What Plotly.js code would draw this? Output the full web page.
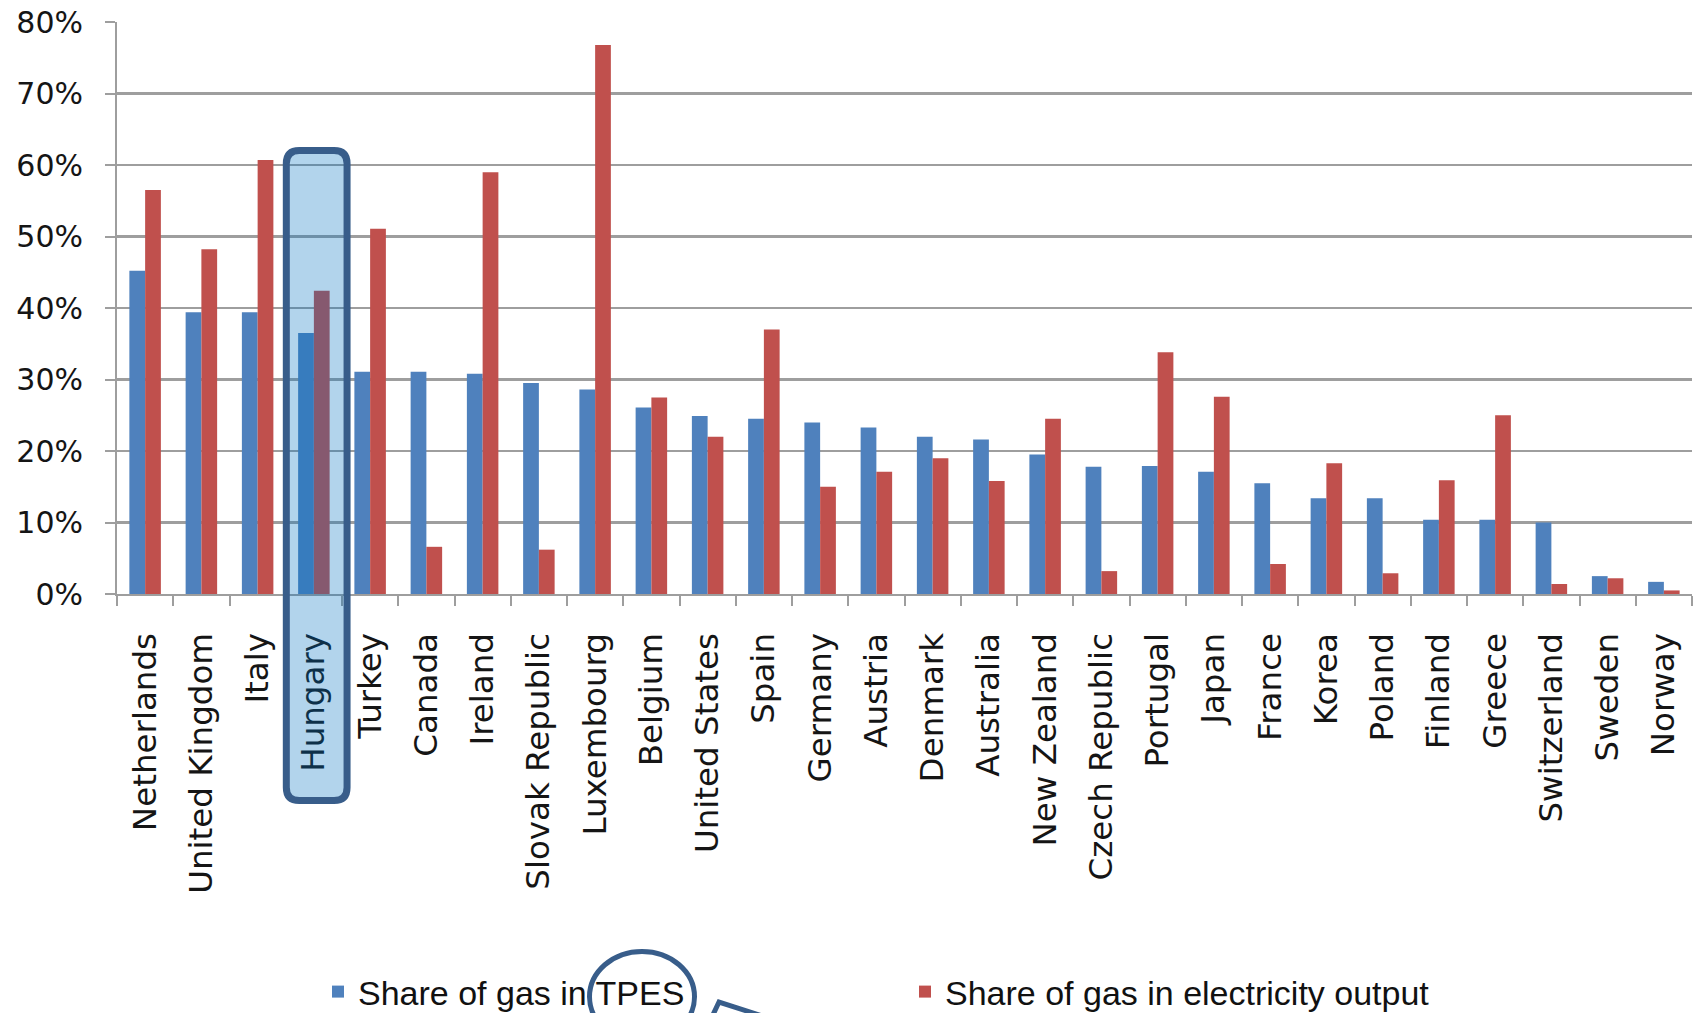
<!DOCTYPE html>
<html>
<head>
<meta charset="utf-8">
<script src="https://cdn.plot.ly/plotly-3.0.1.min.js"></script>
<style>
  html, body { margin: 0; padding: 0; background: #ffffff; }
  #chart { width: 1694px; height: 1013px; }
</style>
</head>
<body>
<div id="chart"></div>
<script>
// ---- data ----
const countries = [
  "Netherlands", "United Kingdom", "Italy", "Hungary", "Turkey", "Canada",
  "Ireland", "Slovak Republic", "Luxembourg", "Belgium", "United States",
  "Spain", "Germany", "Austria", "Denmark", "Australia", "New Zealand",
  "Czech Republic", "Portugal", "Japan", "France", "Korea", "Poland",
  "Finland", "Greece", "Switzerland", "Sweden", "Norway"
];
const shareTPES = [
  0.452, 0.394, 0.394, 0.365, 0.311, 0.311,
  0.308, 0.295, 0.286, 0.261, 0.249,
  0.245, 0.240, 0.233, 0.220, 0.216, 0.195,
  0.178, 0.179, 0.171, 0.155, 0.134, 0.134,
  0.104, 0.104, 0.100, 0.025, 0.017
];
const shareElectricity = [
  0.565, 0.482, 0.607, 0.424, 0.511, 0.066,
  0.590, 0.062, 0.768, 0.275, 0.220,
  0.370, 0.150, 0.171, 0.190, 0.158, 0.245,
  0.032, 0.338, 0.276, 0.042, 0.183, 0.029,
  0.159, 0.250, 0.014, 0.022, 0.005
];
const seriesNames = ["Share of gas in TPES", "Share of gas in electricity output"];
const yTickValues = [0, 0.1, 0.2, 0.3, 0.4, 0.5, 0.6, 0.7, 0.8];
const highlighted = "Hungary";

// ---- geometry helpers (decorations only) ----
const W = 1694, H = 1013;
const M = { l: 117, r: 2, t: 22, b: 419, autoexpand: false };
const plotH = H - M.t - M.b;
const plotW = W - M.l - M.r;
const pyPaper = px => (H - M.b - px) / plotH;   // pixel y -> paper y
const pxPaper = px => (px - M.l) / plotW;       // pixel x -> paper x

const hi = countries.indexOf(highlighted);
function roundRectPath(x0, x1, y0, y1, rx, ry) {
  return `M${x0 + rx},${y1} L${x1 - rx},${y1} Q${x1},${y1} ${x1},${y1 - ry} ` +
         `L${x1},${y0 + ry} Q${x1},${y0} ${x1 - rx},${y0} L${x0 + rx},${y0} ` +
         `Q${x0},${y0} ${x0},${y0 + ry} L${x0},${y1 - ry} Q${x0},${y1} ${x0 + rx},${y1} Z`;
}
const catPx = plotW / countries.length;
const rectPath = roundRectPath(hi - 0.49, hi + 0.59, pyPaper(800.5), pyPaper(150.5),
                               13 / catPx, 13 / plotH);

const outline = "#385d8a";
const calloutPath = `M${pxPaper(711)},${pyPaper(1019)} L${pxPaper(719)},${pyPaper(1002)} L${pxPaper(790)},${pyPaper(1025)}`;

const traces = [
  {
    type: "bar", name: seriesNames[0], x: countries, y: shareTPES,
    marker: { color: "#4f81bd" }
  },
  {
    type: "bar", name: seriesNames[1], x: countries, y: shareElectricity,
    marker: { color: "#c0504d" }
  }
];

const axisGrey = "#9e9e9e";
const layout = {
  width: W, height: H,
  margin: M,
  paper_bgcolor: "#ffffff",
  plot_bgcolor: "#ffffff",
  barmode: "group",
  bargap: 0.44,
  bargroupgap: 0,
  showlegend: true,
  legend: {
    orientation: "h",
    x: pxPaper(318), xanchor: "left",
    y: pyPaper(992), yanchor: "middle",
    font: { family: "Liberation Sans, Arial, sans-serif", size: 34, color: "#111111" },
    entrywidth: 542, entrywidthmode: "pixels",
    bgcolor: "rgba(0,0,0,0)",
    traceorder: "normal"
  },
  xaxis: {
    type: "category",
    tickangle: -90,
    tickson: "boundaries",
    ticks: "outside", ticklen: 10, tickwidth: 2, tickcolor: axisGrey,
    showline: true, linecolor: axisGrey, linewidth: 2,
    showgrid: false,
    ticklabelstandoff: 24,
    tickfont: { family: "DejaVu Sans, Verdana, sans-serif", size: 32.5, color: "#151515" },
    automargin: false
  },
  yaxis: {
    range: [0, 0.8],
    tickvals: yTickValues,
    tickformat: ".0%",
    ticks: "outside", ticklen: 10, tickwidth: 2, tickcolor: axisGrey,
    showline: true, linecolor: axisGrey, linewidth: 2,
    showgrid: true, gridcolor: axisGrey, gridwidth: 2.5,
    zeroline: false,
    ticklabelstandoff: 16,
    tickfont: { family: "DejaVu Sans, Verdana, sans-serif", size: 30, color: "#151515" },
    automargin: false
  },
  shapes: [
    {
      type: "path", xref: "x", yref: "paper", path: rectPath,
      fillcolor: "rgba(0,112,192,0.3)",
      line: { color: outline, width: 7 },
      layer: "above"
    },
    {
      type: "circle", xref: "paper", yref: "paper",
      x0: pxPaper(589.5), x1: pxPaper(694.5),
      y0: pyPaper(1042), y1: pyPaper(951.5),
      line: { color: outline, width: 5 },
      fillcolor: "rgba(0,0,0,0)",
      layer: "above"
    },
    {
      type: "path", xref: "paper", yref: "paper", path: calloutPath,
      line: { color: outline, width: 5 },
      layer: "above"
    }
  ]
};

Plotly.newPlot("chart", traces, layout, { staticPlot: true, displayModeBar: false });
</script>
</body>
</html>
